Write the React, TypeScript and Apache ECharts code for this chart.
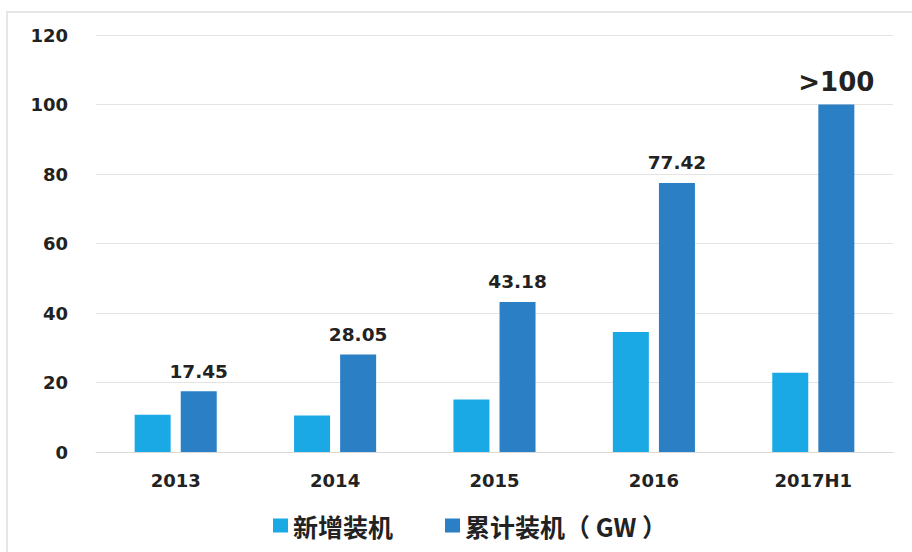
import React, { useEffect, useRef } from "react";
import * as echarts from "echarts";

const categories = ["2013", "2014", "2015", "2016", "2017H1"];
const newInstalled = [10.7, 10.5, 15.1, 34.5, 22.8];
const cumulative = [17.45, 28.05, 43.18, 77.42, 100];
const cumulativeLabels = ["17.45", "28.05", "43.18", "77.42", ">100"];
const seriesNames = ["新增装机", "累计装机（ GW ）"];

export default function App() {
  const ref = useRef<HTMLDivElement>(null);
  useEffect(() => {
    const chart = echarts.init(ref.current!, null, { renderer: "svg" });
    const font = "'DejaVu Sans', 'Noto Sans CJK SC', sans-serif";
    chart.setOption({
      animation: false,
      backgroundColor: "#ffffff",
      textStyle: { fontFamily: font },
      graphic: [
        {
          type: "rect",
          shape: { x: 7, y: 12, width: 920, height: 560 },
          style: { fill: "none", stroke: "#e6e6e6", lineWidth: 2 },
          silent: true,
        },
      ],
      grid: { left: 96, right: 19, top: 35, bottom: 100 },
      legend: {
        bottom: 9,
        left: 268,
        itemWidth: 15,
        itemHeight: 14,
        itemGap: 52,
        icon: "rect",
        textStyle: {
          fontSize: 25,
          fontWeight: "bold",
          color: "#222",
          fontFamily: "'Noto Sans CJK SC', sans-serif",
        },
        data: seriesNames,
      },
      xAxis: {
        type: "category",
        data: categories,
        axisLine: { lineStyle: { color: "#d9d9d9", width: 1 } },
        axisTick: { show: false },
        axisLabel: { fontSize: 18, fontWeight: "bold", color: "#222", margin: 19 },
      },
      yAxis: {
        type: "value",
        min: 0,
        max: 120,
        interval: 20,
        axisLine: { show: false },
        axisTick: { show: false },
        splitLine: { lineStyle: { color: "#e3e3e3", width: 1 } },
        axisLabel: { fontSize: 18, fontWeight: "bold", color: "#222", margin: 28 },
      },
      series: [
        {
          name: seriesNames[0],
          type: "bar",
          data: newInstalled,
          barWidth: 36,
          barGap: "28%",
          itemStyle: { color: "#1BA9E5" },
        },
        {
          name: seriesNames[1],
          type: "bar",
          barWidth: 36,
          data: cumulative.map((v, i) => ({
            value: v,
            label: {
              show: true,
              position: "top",
              distance: i === 4 ? 10 : 11,
              formatter: cumulativeLabels[i],
              fontSize: i === 4 ? 26 : 18.5,
              fontWeight: "bold",
              color: "#222",
            },
          })),
          itemStyle: { color: "#2A7FC5" },
        },
      ],
    });
    return () => chart.dispose();
  }, []);
  return (
    <div
      ref={ref}
      style={{ position: "fixed", left: 0, top: 0, width: 912, height: 552 }}
    />
  );
}
